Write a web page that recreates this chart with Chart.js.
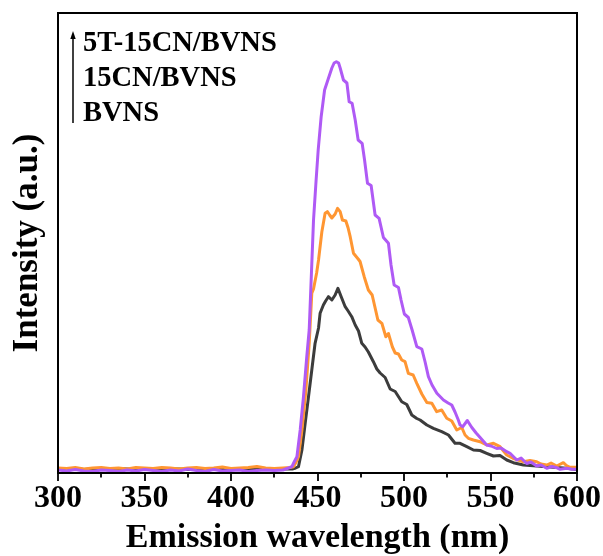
<!DOCTYPE html>
<html>
<head>
<meta charset="utf-8">
<script src="https://cdn.jsdelivr.net/npm/chart.js@4/dist/chart.umd.min.js"></script>
<style>
  html, body { margin: 0; padding: 0; background: #ffffff; }
  #wrap { width: 603px; height: 556px; }
</style>
</head>
<body>
<div id="wrap"><canvas id="c" width="603" height="556"></canvas></div>
<script>
// ---------------- DATA ----------------
const seriesNames = ['5T-15CN/BVNS', '15CN/BVNS', 'BVNS'];
const xTicks = [300, 350, 400, 450, 500, 550, 600];

// Baseline region (300–430 nm every 5 nm)
const baseWl = [300,305,310,315,320,325,330,335,340,345,350,355,360,365,370,375,380,385,390,395,400,405,410,415,420,425,430];
const purpleBase = [3,2,3.5,2,1.5,3,2.5,1.5,3,2,3.5,2.5,1.5,3,2,4,2.5,1.5,3.5,2,2.5,3,1.5,2.5,3,2.5,3];
const orangeBase = [5,4.5,5.5,4,5,5.5,4.5,5,4,5.5,5,4.5,5.5,5,4,5,5.5,4.5,5,6,4.5,5,5.5,6.5,5,4.5,5];
const blackBase  = [4,3.5,4.5,3.5,4,4,3,4.5,4,3.5,4,4.5,3.5,4,4,3.5,4,4.5,4,3.5,4,4.5,4,3.5,4,4.5,4];

// Emission band: 5T-15CN/BVNS (purple)
const purpleWl = [433.2,435.2,436.5,438.1,440.0,441.9,443.8,445.2,447.7,449.2,450.4,452.1,454.1,456.0,458.3,459.6,460.9,462.2,463.1,465.0,467.0,468.3,470.0,471.8,473.5,475.8,477.2,478.9,481.0,483.3,485.6,488.1,491.0,492.5,494.3,496.8,498.3,500.2,502.5,504.7,507.4,510.3,512.2,514.1,516.2,519.0,522.8,525.5,527.6,529.5,531.4,532.4,534.0,536.6,539.2,541.7,544.0,547.8,550.3,553.6,556.1,559.4,561.3,565.2,567.7,570.9,573.4,576.7,579.2,582.5,585.6,588.3,590.2,594.1,597.1,599.8];
const purpleI  = [5,6.3,11,16.3,43,76.3,116.3,143,253,293,323,356,383,393,405,410,411.3,410,405,393,390,371.3,369.7,353,333,329.7,313,289.7,287.5,258,254.7,235.5,229.7,208,188,185.5,173,159,155.5,143,126.3,124,111,96.3,88,79.7,73,70,68,61,53,48,46.3,52.5,45.5,40,35.5,28,27,24.5,25,21.3,19.7,13,15,9.5,11,7,8,4.7,6.5,5.3,3.7,4.7,3.7,3.7];

// Emission band: 15CN/BVNS (orange)
const orangeWl = [434.2,436.1,437.7,439.0,441.0,443.3,445.2,446.7,447.7,449.5,450.6,452.5,454.4,455.7,457.0,458.3,460.2,461.6,463.1,464.4,466.4,467.7,468.9,470.8,473.5,474.6,477.0,479.4,481.6,484.9,487.2,489.5,491.0,493.3,494.9,496.8,498.7,500.6,502.5,505.3,507.4,510.3,513.2,516.1,518.9,521.8,524.7,527.6,530.5,533.4,535.3,537.2,540.1,544.0,547.8,551.7,555.5,559.4,563.2,565.9,569.0,572.8,576.7,579.2,582.5,585.0,588.3,592.1,594.2,596.0,599.8];
const orangeI  = [5.5,6.3,11,16.3,43,83,129.7,179.7,184,200,213,241,259.7,261.3,258,255,259,264.7,261.3,253,252,245,236.3,219.7,214,211.5,196.3,183,178,153,149.7,136.3,139.5,126,120,119,113,111.3,99.7,98,89.7,79,70.5,69.7,61.3,63,54.7,52,43,45.5,38,34.7,33,31.3,28,29.7,26.3,18,14.5,13,11.3,12.5,11.3,9,8,10,7,10.3,7,5.7,5.7];

// Emission band: BVNS (black)
const blackWl = [435.4,437.4,439.0,441.0,442.9,444.8,446.7,448.6,450.6,451.5,453.4,454.7,456.3,458.3,460.2,461.8,463.7,466.0,467.7,469.8,471.8,473.7,475.6,477.5,479.4,482.3,484.3,486.2,489.1,492.0,494.9,498.7,501.6,504.5,507.4,509.3,513.2,517.0,521.8,525.7,529.5,532.4,536.3,540.1,544.0,547.8,551.7,555.5,559.4,563.2,569.0,576.7,586.3,594.1,599.8];
const blackI  = [4,5,6.3,23,50,76.3,103,129.7,145,159.7,168,172,176.3,173,178,184.7,176.3,166.3,162,156.3,148,142,129.7,126,121,111.3,104,100,95.5,84,81.5,71.3,68.5,58,54.5,53,48,44.7,41.3,38,29.7,29.7,26.3,23,22.5,19.7,17,17.5,13,10.3,8,7,5.7,4.7,3.5];

// ---------------- BUILD ----------------
function pts(bw, bi, w, i) {
  const out = [];
  for (let k = 0; k < bw.length; k++) out.push({x: bw[k], y: bi[k]});
  for (let k = 0; k < w.length; k++) out.push({x: w[k], y: i[k]});
  return out;
}

const FONT = "'Liberation Serif', 'Times New Roman', serif";

const overlay = {
  id: 'overlay',
  afterDraw(chart) {
    const ctx = chart.ctx;
    const a = chart.chartArea;
    const xs = chart.scales.x;
    ctx.save();
    // frame
    ctx.strokeStyle = '#000';
    ctx.lineWidth = 2;
    ctx.strokeRect(a.left, a.top, a.right - a.left, a.bottom - a.top);
    // ticks (major every 50, minor every 25)
    ctx.lineWidth = 1.8;
    for (let v = xTicks[0]; v <= xTicks[xTicks.length - 1]; v += 25) {
      const px = Math.round(xs.getPixelForValue(v));
      const len = (v % 50 === 0) ? 8 : 4.5;
      ctx.beginPath();
      ctx.moveTo(px, a.bottom);
      ctx.lineTo(px, a.bottom + len);
      ctx.stroke();
    }
    // annotation arrow
    ctx.lineWidth = 1.5;
    ctx.beginPath();
    ctx.moveTo(73, 123);
    ctx.lineTo(73, 36);
    ctx.stroke();
    ctx.fillStyle = '#000';
    ctx.beginPath();
    ctx.moveTo(73, 31);
    ctx.lineTo(70.3, 39);
    ctx.lineTo(75.7, 39);
    ctx.closePath();
    ctx.fill();
    // annotation text
    ctx.font = 'bold 28.5px ' + FONT;
    ctx.textBaseline = 'alphabetic';
    ctx.textAlign = 'left';
    ctx.fillText(seriesNames[0], 83, 51);
    ctx.fillText(seriesNames[1], 83, 86);
    ctx.fillText(seriesNames[2], 83, 121);
    ctx.restore();
  }
};

new Chart(document.getElementById('c'), {
  type: 'line',
  data: {
    datasets: [
      { label: seriesNames[0], data: pts(baseWl, purpleBase, purpleWl, purpleI), borderColor: 'rgb(175,90,245)', borderWidth: 3 },
      { label: seriesNames[1], data: pts(baseWl, orangeBase, orangeWl, orangeI), borderColor: 'rgb(255,150,50)', borderWidth: 3 },
      { label: seriesNames[2], data: pts(baseWl, blackBase, blackWl, blackI), borderColor: 'rgb(60,60,60)', borderWidth: 3 }
    ]
  },
  options: {
    responsive: false,
    animation: false,
    parsing: false,
    layout: { padding: { top: 13, right: 26, left: 0, bottom: 0 } },
    elements: { point: { radius: 0 }, line: { tension: 0, borderJoinStyle: 'round', borderCapStyle: 'round' } },
    plugins: { legend: { display: false }, tooltip: { enabled: false } },
    scales: {
      x: {
        type: 'linear', min: 300, max: 600,
        afterBuildTicks(s) { s.ticks = xTicks.map(v => ({ value: v })); },
        afterFit(s) { s.height = 83; s.paddingLeft = 0; s.paddingRight = 0; },
        grid: { display: false },
        border: { display: false },
        ticks: { color: '#000', padding: -1, maxRotation: 0, font: { family: FONT, size: 32, weight: 'bold' } },
        title: { display: true, text: 'Emission wavelength (nm)', color: '#000', padding: { top: 0, bottom: -3 }, font: { family: FONT, size: 34, weight: 'bold' } }
      },
      y: {
        min: 0, max: 460,
        afterFit(s) { s.width = 58; },
        grid: { display: false },
        border: { display: false },
        ticks: { display: false },
        title: { display: true, text: 'Intensity (a.u.)', color: '#000', padding: { top: 7, bottom: 0 }, font: { family: FONT, size: 35, weight: 'bold' } }
      }
    }
  },
  plugins: [overlay]
});
</script>
</body>
</html>
